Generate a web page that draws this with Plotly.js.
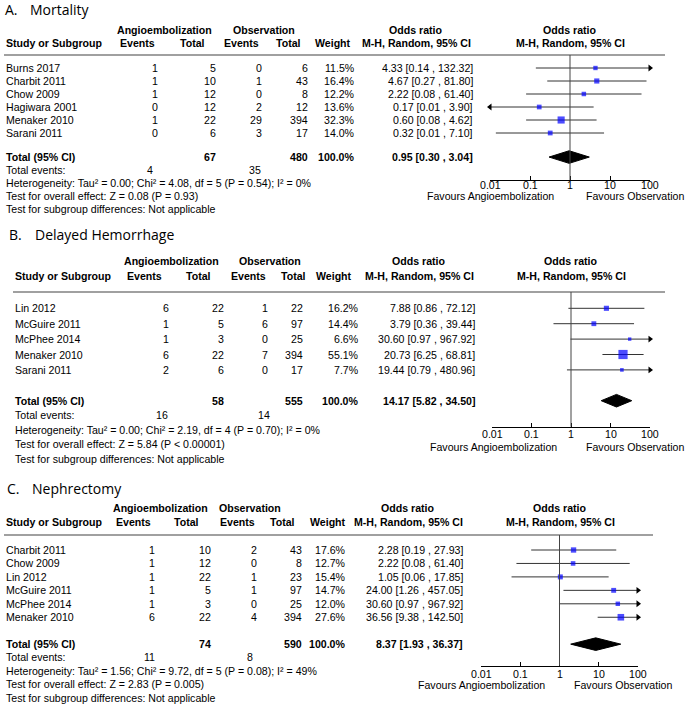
<!DOCTYPE html>
<html><head><meta charset="utf-8">
<script src="https://cdn.plot.ly/plotly-3.0.1.min.js"></script>
<style>html,body{margin:0;padding:0;background:#fff;}#chart{width:685px;height:704px;}</style>
</head><body><div id="chart"></div>
<script>
// ---------- Panel A: Mortality ----------
const studiesA = ["Burns 2017","Charbit 2011","Chow 2009","Hagiwara 2001","Menaker 2010","Sarani 2011"];
const angioEventsA = [1,1,1,0,1,0];
const angioTotalA = [5,10,12,12,22,6];
const obsEventsA = [0,1,0,2,29,3];
const obsTotalA = [6,43,8,12,394,17];
const weightA = [11.5,16.4,12.2,13.6,32.3,14.0];
const orA = [4.33,4.67,2.22,0.17,0.60,0.32];
const ciLowA = [0.14,0.27,0.08,0.007,0.08,0.014];
const ciHighA = [132.32,81.80,61.40,3.90,4.62,7.10];
const pooledA = [0.95,0.30,3.04];
const sumTotalsA = [67,480];
const sumEventsA = [4,35];
const statsA = ["Heterogeneity: Tau² = 0.00; Chi² = 4.08, df = 5 (P = 0.54); I² = 0%",
                "Test for overall effect: Z = 0.08 (P = 0.93)",
                "Test for subgroup differences: Not applicable"];

// ---------- Panel B: Delayed Hemorrhage ----------
const studiesB = ["Lin 2012","McGuire 2011","McPhee 2014","Menaker 2010","Sarani 2011"];
const angioEventsB = [6,1,1,6,2];
const angioTotalB = [22,5,3,22,6];
const obsEventsB = [1,6,0,7,0];
const obsTotalB = [22,97,25,394,17];
const weightB = [16.2,14.4,6.6,55.1,7.7];
const orB = [7.88,3.79,30.60,20.73,19.44];
const ciLowB = [0.86,0.36,0.97,6.25,0.79];
const ciHighB = [72.12,39.44,967.92,68.81,480.96];
const pooledB = [14.17,5.82,34.50];
const sumTotalsB = [58,555];
const sumEventsB = [16,14];
const statsB = ["Heterogeneity: Tau² = 0.00; Chi² = 2.19, df = 4 (P = 0.70); I² = 0%",
                "Test for overall effect: Z = 5.84 (P < 0.00001)",
                "Test for subgroup differences: Not applicable"];

// ---------- Panel C: Nephrectomy ----------
const studiesC = ["Charbit 2011","Chow 2009","Lin 2012","McGuire 2011","McPhee 2014","Menaker 2010"];
const angioEventsC = [1,1,1,1,1,6];
const angioTotalC = [10,12,22,5,3,22];
const obsEventsC = [2,0,1,1,0,4];
const obsTotalC = [43,8,23,97,25,394];
const weightC = [17.6,12.7,15.4,14.7,12.0,27.6];
const orC = [2.28,2.22,1.05,24.00,30.60,36.56];
const ciLowC = [0.19,0.08,0.06,1.26,0.97,9.38];
const ciHighC = [27.93,61.40,17.85,457.05,967.92,142.50];
const pooledC = [8.37,1.93,36.37];
const sumTotalsC = [74,590];
const sumEventsC = [11,8];
const statsC = ["Heterogeneity: Tau² = 1.56; Chi² = 9.72, df = 5 (P = 0.08); I² = 49%",
                "Test for overall effect: Z = 2.83 (P = 0.005)",
                "Test for subgroup differences: Not applicable"];

const tickVals = [0.01,0.1,1,10,100];
const tickText = ["0.01","0.1","1","10","100"];

// ---------- layout geometry (pixels) ----------
const W = 685, H = 704;
const FONT = "Liberation Sans, Arial, sans-serif";
const FS = 10.6;
const TFONT = "Open Sans, sans-serif";

const panels = [
  {lab:"A.", title:"Mortality", studies:studiesA, ae:angioEventsA, at:angioTotalA, oe:obsEventsA, ot:obsTotalA,
   w:weightA, or:orA, lo:ciLowA, hi:ciHighA, pooled:pooledA, tot:sumTotalsA, ev:sumEventsA, stats:statsA,
   g:{labX:3, titleX:28, titleY:10, h1:30, h2:43, line:55, row1:68, step:13, totOff:1.85, foot:[170,183,196,209],
      axisY:180, tickY:185.5, favY:196, xLo:490, xHi:650, lx0:4, lx1:665, study:4, aeX:160, atX:218, oeX:264, otX:310,
      wX:357, orX:475, orHead:416, fHead:570, angHead:164, obsHead:264, hE1:137, hT1:192, hE2:241, hT2:288, hW:333,
      evX1:155, evX2:263, fav1:491, fav2:635}},
  {lab:"B.", title:"Delayed Hemorrhage", studies:studiesB, ae:angioEventsB, at:angioTotalB, oe:obsEventsB, ot:obsTotalB,
   w:weightB, or:orB, lo:ciLowB, hi:ciHighB, pooled:pooledB, tot:sumTotalsB, ev:sumEventsB, stats:statsB,
   g:{labX:7, titleX:33, titleY:234, h1:261, h2:276, line:292, row1:308.3, step:15.4, totOff:2.0, foot:[415,429.5,444,458.5],
      axisY:426.7, tickY:434, favY:447, xLo:492, xHi:650, lx0:13, lx1:665, study:13, aeX:171, atX:226, oeX:270, otX:305,
      wX:361, orX:477, orHead:419, fHead:571, angHead:171, obsHead:270, hE1:144, hT1:198, hE2:248, hT2:293, hW:334,
      evX1:170, evX2:272, fav1:493, fav2:635}},
  {lab:"C.", title:"Nephrectomy", studies:studiesC, ae:angioEventsC, at:angioTotalC, oe:obsEventsC, ot:obsTotalC,
   w:weightC, or:orC, lo:ciLowC, hi:ciHighC, pooled:pooledC, tot:sumTotalsC, ev:sumEventsC, stats:statsC,
   g:{labX:5, titleX:30, titleY:488, h1:508, h2:522, line:535, row1:550, step:13.45, totOff:2.0, foot:[657,670.5,684,697.5],
      axisY:665.7, tickY:673.5, favY:684.5, xLo:481, xHi:638, lx0:4, lx1:653, study:4, aeX:157, atX:213, oeX:259, otX:304,
      wX:348, orX:465, orHead:408, fHead:560, angHead:160, obsHead:250, hE1:133, hT1:187, hE2:237, hT2:282, hW:328,
      evX1:157, evX2:255, fav1:481, fav2:623}}
];

const px = x => x / W;
const py = y => 1 - y / H;

const annotations = [];
const shapes = [];
const traces = [];
const layout = {
  width: W, height: H, margin:{l:0,r:0,t:0,b:0}, paper_bgcolor:"#fff", plot_bgcolor:"rgba(0,0,0,0)",
  showlegend:false, font:{family:FONT, size:FS, color:"#000"}
};

function txt(x, y, text, anchor, opts) {
  opts = opts || {};
  annotations.push({xref:opts.xref||"paper", yref:"paper", x:opts.xref ? x : px(x), y:py(y), text:text, showarrow:false,
    xanchor:anchor, yanchor:"middle", align:anchor==="right"?"right":"left",
    font:{family:opts.family||FONT, size:opts.size||FS, color:"#000"}});
}
const b = s => "<b>" + s + "</b>";
const f2 = v => v.toFixed(2);
const ciStr = (o,l,h) => f2(o) + " [" + f2(l) + " , " + f2(h) + "]";
const XMIN = 0.01, XMAX = 100;

panels.forEach((p, k) => {
  const g = p.g;
  const n = p.studies.length;
  const rowPx = i => g.row1 + (i - 1) * g.step;       // row index -> pixel
  const pxRow = y => 1 + (y - g.row1) / g.step;       // pixel -> row index
  const totIdx = n + g.totOff;
  const sfx = k === 0 ? "" : String(k + 1);
  const xa = "x" + sfx, ya = "y" + sfx;

  layout["xaxis" + sfx] = {type:"log", range:[Math.log10(XMIN), Math.log10(XMAX)],
    domain:[px(g.xLo), px(g.xHi)], anchor:ya, side:"bottom", showline:true, linecolor:"#000", linewidth:1,
    ticks:"inside", ticklen:4, tickcolor:"#000", tickwidth:1, tickvals:tickVals, ticktext:tickText,
    showticklabels:false, showgrid:false, zeroline:false, fixedrange:true};
  layout["yaxis" + sfx] = {domain:[py(g.axisY), py(g.line)], range:[pxRow(g.axisY), pxRow(g.line)],
    visible:false, showgrid:false, zeroline:false, fixedrange:true, anchor:xa};

  // tick labels placed on the log axis (annotation x in log10 units)
  tickVals.forEach((v, j) => txt(Math.log10(v), g.tickY, tickText[j], "center", {xref:xa}));

  // titles
  txt(g.labX, g.titleY, p.lab, "left", {family:TFONT, size:14});
  txt(g.titleX, g.titleY, p.title, "left", {family:TFONT, size:14});
  // headers
  txt(g.angHead, g.h1, b("Angioembolization"), "center");
  txt(g.obsHead, g.h1, b("Observation"), "center");
  txt(g.orHead, g.h1, b("Odds ratio"), "center");
  txt(g.fHead, g.h1, b("Odds ratio"), "center");
  txt(g.study, g.h2, b("Study or Subgroup"), "left");
  txt(g.hE1, g.h2, b("Events"), "center");
  txt(g.hT1, g.h2, b("Total"), "center");
  txt(g.hE2, g.h2, b("Events"), "center");
  txt(g.hT2, g.h2, b("Total"), "center");
  txt(g.hW, g.h2, b("Weight"), "center");
  txt(g.orHead, g.h2, b("M-H, Random, 95% CI"), "center");
  txt(g.fHead, g.h2, b("M-H, Random, 95% CI"), "center");
  shapes.push({type:"line", xref:"paper", yref:"paper", x0:px(g.lx0), x1:px(g.lx1), y0:py(g.line), y1:py(g.line),
    line:{color:"#808080", width:1.5}});

  // study rows
  for (let i = 0; i < n; i++) {
    const y = rowPx(i + 1);
    txt(g.study, y, p.studies[i], "left");
    txt(g.aeX, y, String(p.ae[i]), "right");
    txt(g.atX, y, String(p.at[i]), "right");
    txt(g.oeX, y, String(p.oe[i]), "right");
    txt(g.otX, y, String(p.ot[i]), "right");
    txt(g.wX, y, p.w[i].toFixed(1) + "%", "right");
    txt(g.orX, y, ciStr(p.or[i], p.lo[i], p.hi[i]), "right");
  }
  // total row
  const ty = rowPx(totIdx);
  txt(g.study, ty, b("Total (95% CI)"), "left");
  txt(g.atX, ty, b(String(p.tot[0])), "right");
  txt(g.otX, ty, b(String(p.tot[1])), "right");
  txt(g.wX, ty, b("100.0%"), "right");
  txt(g.orX, ty, b(ciStr(p.pooled[0], p.pooled[1], p.pooled[2])), "right");
  txt(g.study, g.foot[0], "Total events:", "left");
  txt(g.evX1, g.foot[0], String(p.ev[0]), "right");
  txt(g.evX2, g.foot[0], String(p.ev[1]), "right");
  p.stats.forEach((s, j) => txt(g.study, g.foot[j + 1], s, "left"));
  // favours
  txt(g.fav1, g.favY, "Favours Angioembolization", "center");
  txt(g.fav2, g.favY, "Favours Observation", "center");

  // null line at OR = 1
  shapes.push({type:"line", xref:xa, yref:ya + " domain", x0:1, x1:1, y0:0, y1:1, line:{color:"#444", width:1}});

  // CI lines
  const lx = [], ly = [];
  const arR = [], arRy = [], arL = [], arLy = [];
  for (let i = 0; i < n; i++) {
    lx.push(Math.max(p.lo[i], XMIN), Math.min(p.hi[i], XMAX), null);
    ly.push(i + 1, i + 1, null);
    if (p.hi[i] > XMAX) { arR.push(XMAX); arRy.push(i + 1); }
    if (p.lo[i] < XMIN) { arL.push(XMIN); arLy.push(i + 1); }
  }
  traces.push({type:"scatter", mode:"lines", x:lx, y:ly, xaxis:xa, yaxis:ya, line:{color:"#333", width:1},
    hoverinfo:"skip", cliponaxis:false});
  traces.push({type:"scatter", mode:"markers", x:arR, y:arRy, xaxis:xa, yaxis:ya, cliponaxis:false,
    marker:{symbol:"triangle-right", size:6, color:"#000"}, hoverinfo:"skip"});
  traces.push({type:"scatter", mode:"markers", x:arL, y:arLy, xaxis:xa, yaxis:ya, cliponaxis:false,
    marker:{symbol:"triangle-left", size:6, color:"#000"}, hoverinfo:"skip"});
  // point estimates
  traces.push({type:"scatter", mode:"markers", x:p.or, y:p.studies.map((s, i) => i + 1), xaxis:xa, yaxis:ya,
    marker:{symbol:"square", color:"#0000ff", size:p.w.map(v => 1.2 * Math.sqrt(v) + 0.3), line:{width:0}},
    hoverinfo:"skip", cliponaxis:false});
  // diamond
  const dh = 6.3 / g.step;
  traces.push({type:"scatter", mode:"lines", fill:"toself", fillcolor:"#000", xaxis:xa, yaxis:ya,
    x:[p.pooled[1], p.pooled[0], p.pooled[2], p.pooled[0], p.pooled[1]],
    y:[totIdx, totIdx - dh, totIdx, totIdx + dh, totIdx], line:{color:"#000", width:1}, hoverinfo:"skip"});
});

layout.annotations = annotations;
layout.shapes = shapes;
Plotly.newPlot("chart", traces, layout, {staticPlot:true, displayModeBar:false});
</script>
</body></html>
